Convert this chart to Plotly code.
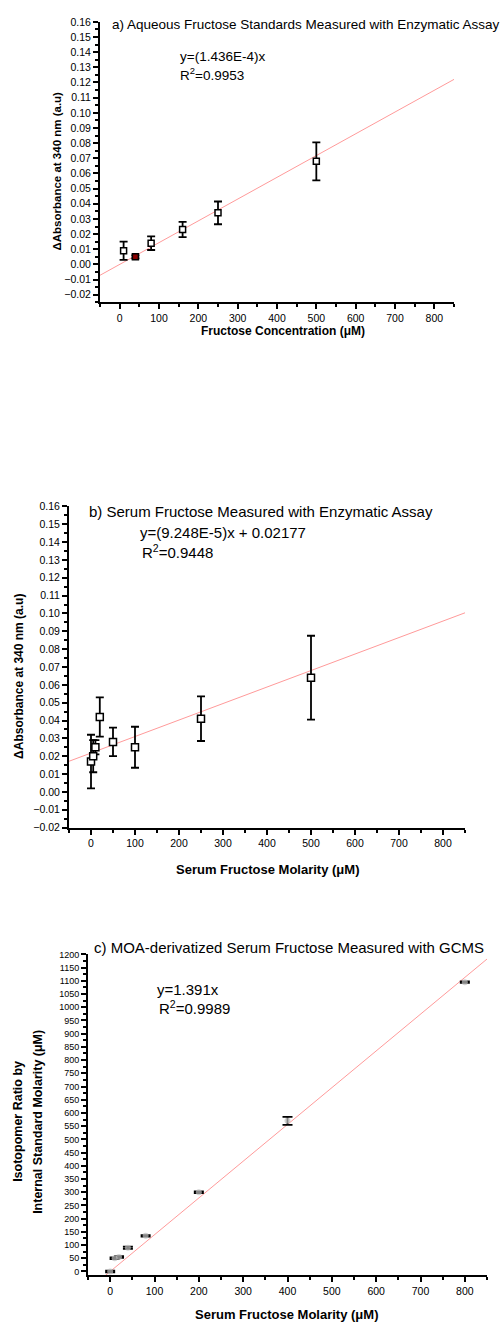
import plotly.graph_objects as go

# ---------------- data ----------------
# Panel a: aqueous fructose standards (enzymatic assay)
a_x = [10, 40, 80, 160, 250, 500]
a_y = [0.009, 0.005, 0.014, 0.023, 0.034, 0.068]
a_err = [0.006, 0.001, 0.0045, 0.005, 0.0075, 0.0125]
a_fill = ["white", "#8b0000", "white", "white", "white", "white"]
a_slope, a_icpt = 1.436e-4, 0.0

# Panel b: serum fructose (enzymatic assay)
b_x = [0, 5, 10, 20, 50, 100, 250, 500]
b_y = [0.017, 0.020, 0.025, 0.042, 0.028, 0.025, 0.041, 0.064]
b_err = [0.015, 0.009, 0.004, 0.011, 0.008, 0.0115, 0.0125, 0.0235]
b_slope, b_icpt = 9.248e-5, 0.02177

# Panel c: MOA-derivatized serum fructose (GCMS)
c_x = [0, 10, 20, 40, 80, 200, 400, 800]
c_y = [0, 50, 55, 90, 135, 300, 570, 1095]
c_err = [3, 3, 3, 4, 3, 3, 15, 3]
c_slope, c_icpt = 1.391, 0.0

fit_x = [-50, 850]

titles = ["a) Aqueous Fructose Standards Measured with Enzymatic Assay",
          "b) Serum Fructose Measured with Enzymatic Assay",
          "c) MOA-derivatized Serum Fructose Measured with GCMS"]
eqs = [["y=(1.436E-4)x", "R<sup>2</sup>=0.9953"],
       ["y=(9.248E-5)x + 0.02177", "R<sup>2</sup>=0.9448"],
       ["y=1.391x", "R<sup>2</sup>=0.9989"]]
xlabels = ["Fructose Concentration (μM)",
           "Serum Fructose Molarity (μM)",
           "Serum Fructose Molarity (μM)"]
ylabels = [["ΔAbsorbance at 340 nm (a.u)"],
           ["ΔAbsorbance at 340 nm (a.u)"],
           ["Isotopomer Ratio by", "Internal Standard Molarity (μM)"]]

# ---------------- layout geometry ----------------
W, H = 504, 1332
FONT = "Liberation Sans, Arial, sans-serif"
LINE_COLOR = "#ff9a9a"


def px(x):
    return x / W


def py(y):
    return 1 - y / H


fig = go.Figure()

# panel geometry: (x0, x1, ytop, ybottom) in pixels
geo = [(100, 454, 16, 299), (69, 465, 505, 829), (88, 487, 957, 1281)]
yranges = [[-0.025, 0.16], [-0.02, 0.16], [-15, 1200]]
tick_sizes = [10.5, 10.5, 9]

datasets = [(a_x, a_y, a_err, a_slope, a_icpt),
            (b_x, b_y, b_err, b_slope, b_icpt),
            (c_x, c_y, c_err, c_slope, c_icpt)]

for i, (xs, ys, es, m, c) in enumerate(datasets):
    n = "" if i == 0 else str(i + 1)
    xa, ya = "x" + n, "y" + n
    fig.add_trace(go.Scatter(x=fit_x, y=[m * v + c for v in fit_x], mode="lines",
                             line=dict(color=LINE_COLOR, width=1), xaxis=xa, yaxis=ya,
                             showlegend=False, hoverinfo="skip"))
    if i == 0:
        marker = dict(symbol="square", size=6, color=a_fill,
                      line=dict(color="black", width=1.5))
    elif i == 1:
        marker = dict(symbol="square", size=7, color="white",
                      line=dict(color="black", width=1.5))
    else:
        marker = dict(symbol="circle", size=6, color="rgba(190,190,190,0.7)",
                      line=dict(width=0))
    fig.add_trace(go.Scatter(x=xs, y=ys, mode="markers", marker=marker,
                             error_y=dict(type="data", array=es, visible=True,
                                          color="black", thickness=1.8,
                                          width=4 if i < 2 else 5),
                             xaxis=xa, yaxis=ya, showlegend=False))

layout = dict(width=W, height=H, margin=dict(l=0, r=0, t=0, b=0),
              paper_bgcolor="white", plot_bgcolor="white",
              font=dict(family=FONT, color="black"))

ydticks = [0.01, 0.01, 50]
yfmts = [".2f", ".2f", "d"]
yminor = [0.005, 0.005, 25]

for i, (x0, x1, yt, yb) in enumerate(geo):
    n = "" if i == 0 else str(i + 1)
    axis_common = dict(showline=True, linecolor="black", linewidth=2,
                       ticks="outside", tickcolor="black", tickwidth=1.5, ticklen=5,
                       showgrid=False, zeroline=False, mirror=False,
                       tickfont=dict(family=FONT, size=tick_sizes[i], color="black"))
    layout["xaxis" + n] = dict(axis_common, domain=[px(x0), px(x1)], range=[-50, 850],
                                anchor="y" + n, dtick=100, tick0=0,
                                tickfont=dict(family=FONT, size=10.5, color="black"),
                                minor=dict(dtick=50, ticks="outside", ticklen=3,
                                           tickcolor="black", tickwidth=1.5))
    layout["yaxis" + n] = dict(axis_common, domain=[py(yb), py(yt)], range=yranges[i],
                                anchor="x" + n, dtick=ydticks[i], tick0=0,
                                tickformat=yfmts[i],
                                minor=dict(dtick=yminor[i], ticks="outside", ticklen=3,
                                           tickcolor="black", tickwidth=1.5))

fig.update_layout(**layout)

ann = []
# titles
title_pos = [(110, 19), (87, 510), (92, 950)]
title_sizes = [13.5, 15, 15]
for (x, y), t, s in zip(title_pos, titles, title_sizes):
    ann.append(dict(text=t, x=px(x), y=py(y), xref="paper", yref="paper",
                    xanchor="left", yanchor="middle", showarrow=False,
                    font=dict(family=FONT, size=s, color="black")))
# equations
eq_pos = [((178, 51), (178, 69)), ((138, 531), (140, 550)), ((155, 992), (157, 1011))]
eq_sizes = [13.5, 15, 15]
for pos, lines, s in zip(eq_pos, eqs, eq_sizes):
    for (x, y), t in zip(pos, lines):
        ann.append(dict(text=t, x=px(x), y=py(y), xref="paper", yref="paper",
                        xanchor="left", yanchor="middle", showarrow=False,
                        font=dict(family=FONT, size=s, color="black")))
# x labels
xl_pos = [(283, 328), (267, 871), (286, 1320)]
xl_sizes = [12, 13, 13]
for (x, y), t, s in zip(xl_pos, xlabels, xl_sizes):
    ann.append(dict(text="<b>" + t + "</b>", x=px(x), y=py(y), xref="paper", yref="paper",
                    xanchor="center", yanchor="middle", showarrow=False,
                    font=dict(family=FONT, size=s, color="black")))
# y labels (each line separately, rotated)
yl_pos = [[(57, 167)], [(19, 677)], [(18, 1126), (38, 1126)]]
yl_sizes = [11.5, 12, 12.5]
for poss, lines, s in zip(yl_pos, ylabels, yl_sizes):
    for (x, y), t in zip(poss, lines):
        ann.append(dict(text="<b>" + t + "</b>", x=px(x), y=py(y), xref="paper", yref="paper",
                        xanchor="center", yanchor="middle", showarrow=False, textangle=-90,
                        font=dict(family=FONT, size=s, color="black")))

fig.update_layout(annotations=ann)
fig.write_html("out.html")
